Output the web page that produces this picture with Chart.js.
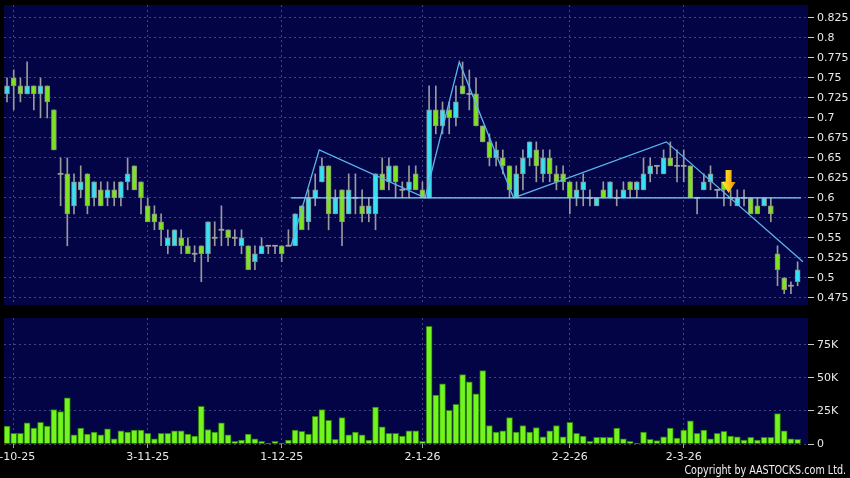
<!DOCTYPE html>
<html>
<head>
<meta charset="utf-8">
<title>Price and volume</title>
<script src="https://cdn.jsdelivr.net/npm/chart.js@4.4.1/dist/chart.umd.min.js"></script>
<style>
  html, body { margin: 0; padding: 0; background: #000; }
  #page { position: relative; width: 850px; height: 478px; overflow: hidden; background: #000; }
  #priceChart { position: absolute; left: 0; top: 0; }
  #volumeChart { position: absolute; left: 0; top: 312px; }
  #copyright {
    position: absolute; right: 4px; top: 463px;
    font: 12px "DejaVu Sans", sans-serif; color: #f0f0f0;
    transform: scaleX(0.8); transform-origin: right top; white-space: nowrap;
  }
</style>
</head>
<body>
<div id="page">
  <canvas id="priceChart" width="850" height="310"></canvas>
  <canvas id="volumeChart" width="850" height="166"></canvas>
  <div id="copyright">Copyright by AASTOCKS.com Ltd.</div>
</div>
<script>
// daily candles, one per trading day (index 0 .. 118)
const opens = [
  0.73, 0.75, 0.74, 0.73, 0.74, 0.73, 0.74, 0.71, 0.63, 0.63,
  0.59, 0.61, 0.63, 0.60, 0.61, 0.60, 0.61, 0.60, 0.62, 0.64,
  0.62, 0.59, 0.58, 0.57, 0.54, 0.54, 0.55, 0.54, 0.53, 0.54,
  0.53, 0.55, 0.56, 0.56, 0.55, 0.54, 0.54, 0.52, 0.53, 0.54,
  0.54, 0.54, 0.54, 0.54, 0.59, 0.57, 0.60, 0.62, 0.64, 0.58,
  0.61, 0.58, 0.60, 0.59, 0.58, 0.58, 0.63, 0.62, 0.64, 0.61,
  0.61, 0.63, 0.61, 0.60, 0.71, 0.69, 0.71, 0.70, 0.74, 0.73,
  0.73, 0.69, 0.67, 0.65, 0.65, 0.64, 0.60, 0.63, 0.65, 0.66,
  0.63, 0.65, 0.63, 0.63, 0.62, 0.60, 0.61, 0.60, 0.59, 0.61,
  0.60, 0.60, 0.60, 0.62, 0.61, 0.61, 0.63, 0.64, 0.63, 0.65,
  0.64, 0.64, 0.64, 0.60, 0.61, 0.62, 0.61, 0.62, 0.60, 0.59,
  0.60, 0.60, 0.59, 0.59, 0.59, 0.53, 0.50, 0.49, 0.495
];
const highs = [
  0.75, 0.76, 0.75, 0.77, 0.74, 0.75, 0.74, 0.71, 0.65, 0.65,
  0.63, 0.64, 0.63, 0.62, 0.62, 0.62, 0.62, 0.62, 0.65, 0.64,
  0.62, 0.60, 0.59, 0.58, 0.56, 0.56, 0.56, 0.55, 0.54, 0.54,
  0.57, 0.57, 0.59, 0.56, 0.56, 0.56, 0.54, 0.54, 0.55, 0.54,
  0.54, 0.54, 0.56, 0.58, 0.59, 0.61, 0.63, 0.65, 0.64, 0.61,
  0.61, 0.63, 0.63, 0.61, 0.60, 0.63, 0.65, 0.65, 0.64, 0.62,
  0.64, 0.64, 0.62, 0.74, 0.74, 0.72, 0.72, 0.74, 0.77, 0.76,
  0.75, 0.69, 0.68, 0.67, 0.66, 0.64, 0.64, 0.66, 0.67, 0.67,
  0.66, 0.66, 0.64, 0.64, 0.62, 0.62, 0.63, 0.61, 0.60, 0.62,
  0.62, 0.61, 0.62, 0.62, 0.62, 0.65, 0.65, 0.64, 0.66, 0.67,
  0.66, 0.66, 0.64, 0.60, 0.63, 0.64, 0.61, 0.62, 0.61, 0.61,
  0.61, 0.60, 0.60, 0.60, 0.60, 0.54, 0.50, 0.495, 0.52
];
const lows = [
  0.72, 0.71, 0.72, 0.73, 0.71, 0.70, 0.70, 0.66, 0.59, 0.54,
  0.58, 0.60, 0.58, 0.59, 0.59, 0.59, 0.59, 0.59, 0.61, 0.61,
  0.58, 0.57, 0.56, 0.54, 0.53, 0.54, 0.53, 0.53, 0.52, 0.495,
  0.52, 0.54, 0.54, 0.54, 0.54, 0.53, 0.51, 0.51, 0.53, 0.53,
  0.53, 0.52, 0.54, 0.54, 0.56, 0.56, 0.59, 0.62, 0.56, 0.58,
  0.54, 0.58, 0.58, 0.57, 0.57, 0.56, 0.61, 0.61, 0.60, 0.60,
  0.60, 0.61, 0.60, 0.60, 0.68, 0.68, 0.68, 0.69, 0.73, 0.71,
  0.69, 0.67, 0.64, 0.64, 0.63, 0.60, 0.60, 0.61, 0.64, 0.62,
  0.62, 0.62, 0.61, 0.61, 0.58, 0.59, 0.59, 0.59, 0.59, 0.60,
  0.60, 0.59, 0.60, 0.60, 0.60, 0.61, 0.62, 0.63, 0.63, 0.64,
  0.62, 0.62, 0.60, 0.58, 0.61, 0.61, 0.60, 0.59, 0.59, 0.59,
  0.59, 0.58, 0.58, 0.59, 0.57, 0.49, 0.48, 0.48, 0.49
];
const closes = [
  0.74, 0.74, 0.73, 0.74, 0.73, 0.74, 0.72, 0.66, 0.63, 0.58,
  0.62, 0.62, 0.59, 0.62, 0.59, 0.61, 0.60, 0.62, 0.63, 0.61,
  0.60, 0.57, 0.57, 0.56, 0.55, 0.56, 0.54, 0.53, 0.53, 0.53,
  0.57, 0.55, 0.56, 0.55, 0.55, 0.55, 0.51, 0.53, 0.54, 0.54,
  0.54, 0.53, 0.54, 0.58, 0.56, 0.60, 0.61, 0.64, 0.58, 0.60,
  0.57, 0.61, 0.60, 0.58, 0.59, 0.63, 0.61, 0.64, 0.62, 0.61,
  0.62, 0.61, 0.60, 0.71, 0.69, 0.71, 0.70, 0.72, 0.73, 0.73,
  0.69, 0.67, 0.65, 0.66, 0.64, 0.61, 0.63, 0.65, 0.67, 0.64,
  0.65, 0.63, 0.62, 0.62, 0.60, 0.61, 0.62, 0.60, 0.60, 0.60,
  0.62, 0.60, 0.61, 0.61, 0.62, 0.63, 0.64, 0.64, 0.65, 0.64,
  0.64, 0.64, 0.60, 0.60, 0.62, 0.63, 0.61, 0.61, 0.60, 0.60,
  0.60, 0.58, 0.58, 0.60, 0.58, 0.51, 0.485, 0.49, 0.51
];
// volume in thousands of shares
const volumes = [
  13.5, 8, 8, 16, 12, 16.5, 13.5, 26, 24.5, 35,
  7, 12, 7.5, 9, 7, 11.5, 4, 10, 9, 10.5,
  10.5, 8, 4, 8, 8, 10, 10, 7.5, 6, 28.5,
  11, 9, 16, 7, 2, 3, 7.5, 4, 2, 0.5,
  2, 0.7, 3, 10.5, 9.5, 7.5, 21, 26, 18, 3.5,
  20, 7, 9, 7, 3, 28, 13, 8, 8, 6,
  10, 10, 2, 89, 37, 45.5, 25.5, 30, 52.5, 47,
  38, 55.5, 14, 9, 10, 20, 9, 14, 9, 12.5,
  5.5, 10, 14, 5.5, 16.5, 8, 6, 2, 5, 5,
  5, 12, 4, 2, 0.7, 9, 3.5, 2.5, 5.5, 12,
  4.5, 10.5, 17.5, 8, 10.5, 4, 8, 9.5, 6, 5.5,
  3, 5, 3, 5, 5, 23, 10, 4, 3.5
];

// date axis
const tickIdx = [1, 21, 41, 62, 84, 101];
const tickText = ['2-10-25', '3-11-25', '1-12-25', '2-1-26', '2-2-26', '2-3-26'];
const priceTicks = [0.475, 0.5, 0.525, 0.55, 0.575, 0.6, 0.625, 0.65, 0.675, 0.7, 0.725, 0.75, 0.775, 0.8, 0.825];
const volumeTicks = [0, 25, 50, 75];

// drawn pattern lines and the signal arrow
const neckIdx = [42.4, 118.5];
const neckVal = [0.6, 0.6];
const zigIdx = [42.4, 46.6, 62.4, 67.5, 75.6, 98.4, 118.8];
const zigVal = [0.54, 0.66, 0.60, 0.77, 0.60, 0.67, 0.52];
const arrowIdx = [107.7];
const arrowVal = [0.606];

const navy = 'rgb(3, 4, 70)';
const gridColor = 'rgba(125, 135, 185, 0.5)';
const textColor = '#e8e8e8';
const upColor = '#36e2f2';
const downColor = '#7ee31f';
const dojiColor = '#a0a0a0';
const font = { family: '"DejaVu Sans", sans-serif', size: 11 };

Chart.defaults.font.family = font.family;

// fill the plot area with the dark blue panel colour
const panelBackground = {
  id: 'panelBackground',
  beforeDraw(chart) {
    const { ctx, chartArea: a } = chart;
    ctx.save();
    ctx.fillStyle = navy;
    ctx.fillRect(a.left, a.top, a.right - a.left, a.bottom - a.top);
    ctx.restore();
  }
};

// yellow down arrow marker
const arrowMarker = {
  id: 'arrowMarker',
  afterDatasetsDraw(chart) {
    const { ctx, scales: { x, y } } = chart;
    arrowIdx.forEach((v, i) => {
      const cx = x.getPixelForValue(v);
      const tip = y.getPixelForValue(arrowVal[i]);
      const g = ctx.createLinearGradient(cx - 7, 0, cx + 7, 0);
      g.addColorStop(0, '#ffe840');
      g.addColorStop(0.5, '#ffc81c');
      g.addColorStop(1, '#e0880a');
      ctx.save();
      ctx.beginPath();
      ctx.moveTo(cx - 3, tip - 23);
      ctx.lineTo(cx + 3, tip - 23);
      ctx.lineTo(cx + 3, tip - 11);
      ctx.lineTo(cx + 7, tip - 11);
      ctx.lineTo(cx, tip);
      ctx.lineTo(cx - 7, tip - 11);
      ctx.lineTo(cx - 3, tip - 11);
      ctx.closePath();
      ctx.fillStyle = g;
      ctx.fill();
      ctx.restore();
    });
  }
};

function xAxis(showLabels) {
  return {
    type: 'linear',
    min: -0.45,
    max: 119.55,
    offset: false,
    afterBuildTicks: s => { s.ticks = tickIdx.map(v => ({ value: v })); },
    afterFit: s => { s.paddingLeft = 0; s.paddingRight = 0; s.height = showLabels ? 34 : 0; },
    grid: { offset: false, color: gridColor, drawTicks: showLabels, tickLength: 4, tickColor: '#a0a0a0' },
    border: { display: false, dash: [2, 3] },
    ticks: {
      display: showLabels, autoSkip: false, maxRotation: 0, color: textColor, font, padding: 3,
      callback: (v, i) => tickText[i]
    }
  };
}

function yAxis(min, max, values, fmt) {
  return {
    position: 'right',
    min: min,
    max: max,
    afterBuildTicks: s => { s.ticks = values.map(v => ({ value: v })); },
    afterFit: s => { s.width = 42; s.paddingTop = 0; s.paddingBottom = 0; },
    grid: { color: gridColor, tickLength: 6, tickColor: '#c8c8c8' },
    border: { display: false, dash: [2, 3] },
    ticks: { color: textColor, font, padding: 3, callback: fmt }
  };
}

function bodyColor(i) {
  if (closes[i] > opens[i]) return upColor;
  if (closes[i] < opens[i]) return downColor;
  return dojiColor;
}

const wickData = highs.map((h, i) => ({ x: i, y: [lows[i], h] }));
const bodyData = opens.map((o, i) => {
  const c = closes[i];
  if (o === c) return { x: i, y: [c - 0.0007, c + 0.0007] };
  return { x: i, y: [Math.min(o, c), Math.max(o, c)] };
});

new Chart(document.getElementById('priceChart'), {
  type: 'bar',
  data: {
    datasets: [
      {
        type: 'line',
        data: neckIdx.map((v, i) => ({ x: v, y: neckVal[i] })),
        borderColor: '#86d6fa', borderWidth: 1.3, pointRadius: 0, order: 1
      },
      {
        type: 'line',
        data: zigIdx.map((v, i) => ({ x: v, y: zigVal[i] })),
        borderColor: '#5cb4ec', borderWidth: 1.3, pointRadius: 0, tension: 0, order: 1
      },
      {
        data: bodyData,
        grouped: false,
        barThickness: 5,
        backgroundColor: ctx => bodyColor(ctx.dataIndex),
        borderColor: '#8c8c8c',
        borderWidth: ctx => (opens[ctx.dataIndex] === closes[ctx.dataIndex] ? 0 : 1),
        borderSkipped: false,
        order: 2
      },
      {
        data: wickData,
        grouped: false,
        barThickness: 1,
        backgroundColor: '#9a9a9a',
        borderWidth: 0,
        order: 3
      }
    ]
  },
  options: {
    responsive: false,
    animation: false,
    events: [],
    layout: { padding: { left: 4, right: 0, top: 5, bottom: 5 } },
    plugins: { legend: { display: false }, tooltip: { enabled: false } },
    scales: {
      x: xAxis(false),
      y: yAxis(0.4659, 0.84125, priceTicks, v => String(Number(v.toFixed(3))))
    }
  },
  plugins: [panelBackground, arrowMarker]
});

new Chart(document.getElementById('volumeChart'), {
  type: 'bar',
  data: {
    datasets: [{
      data: volumes.map((v, i) => ({ x: i, y: v })),
      barThickness: 6,
      backgroundColor: '#72f41e',
      borderColor: '#2f7c0e',
      borderWidth: 1
    }]
  },
  options: {
    responsive: false,
    animation: false,
    events: [],
    layout: { padding: { left: 4, right: 0, top: 6, bottom: 0 } },
    plugins: { legend: { display: false }, tooltip: { enabled: false } },
    scales: {
      x: xAxis(true),
      y: yAxis(0, 95.4, volumeTicks, v => (v === 0 ? '0' : v + 'K'))
    }
  },
  plugins: [panelBackground]
});
</script>
</body>
</html>
